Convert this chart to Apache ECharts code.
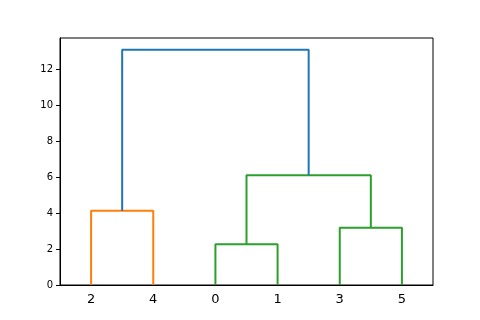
<!DOCTYPE html>
<html><head><meta charset="utf-8">
<script src="https://cdn.jsdelivr.net/npm/echarts@6/dist/echarts.min.js"></script>
<style>html,body{margin:0;padding:0;background:#fff}#c{width:480px;height:320px}</style>
</head><body><div id="c"></div>
<script>
// leaf labels in dendrogram order, placed at 5,15,25,...
const leafLabels = ['2', '4', '0', '1', '3', '5'];
const leafPos = [5, 15, 25, 35, 45, 55];
// links: x-coords (icoord) and heights (dcoord), scipy-style
const linkX = [
  [5, 5, 15, 15],
  [25, 25, 35, 35],
  [45, 45, 55, 55],
  [30, 30, 50, 50],
  [10, 10, 40, 40]
];
const linkH = [
  [0, 4.13, 4.13, 0],
  [0, 2.26, 2.26, 0],
  [0, 3.18, 3.18, 0],
  [2.26, 6.09, 6.09, 3.18],
  [4.13, 13.07, 13.07, 6.09]
];
const linkColor = ['#ff7f0e', '#2ca02c', '#2ca02c', '#2ca02c', '#1f77b4'];
const yTicks = [0, 2, 4, 6, 8, 10, 12];

const chart = echarts.init(document.getElementById('c'), null, {renderer: 'canvas'});
const series = linkX.map((xs, i) => ({
  type: 'line',
  data: xs.map((x, j) => [x, linkH[i][j]]),
  symbol: 'none',
  lineStyle: {color: linkColor[i], width: 2},
  silent: true,
  animation: false,
  z: 2
}));
chart.setOption({
  animation: false,
  backgroundColor: '#fff',
  grid: {left: 60, right: 47, top: 38, bottom: 35, show: true, borderColor: '#000', borderWidth: 1},
  xAxis: {
    type: 'value', min: 0, max: 60,
    axisLine: {show: true, onZero: false, lineStyle: {color: '#000', width: 1}},
    axisTick: {show: false},
    splitLine: {show: false},
    axisLabel: {
      customValues: leafPos,
      formatter: v => { const i = leafPos.indexOf(v); return i >= 0 ? leafLabels[i] : ''; },
      color: '#000', fontSize: 13, fontFamily: 'DejaVu Sans', margin: 8
    }
  },
  yAxis: {
    type: 'value', min: 0, max: 13.72,
    axisLine: {show: true, lineStyle: {color: '#000', width: 1}},
    axisTick: {show: true, customValues: yTicks, length: 4, lineStyle: {color: '#000'}},
    splitLine: {show: false},
    axisLabel: {customValues: yTicks, color: '#000', fontSize: 10, fontFamily: 'DejaVu Sans', margin: 7}
  },
  series: series
});
</script></body></html>
